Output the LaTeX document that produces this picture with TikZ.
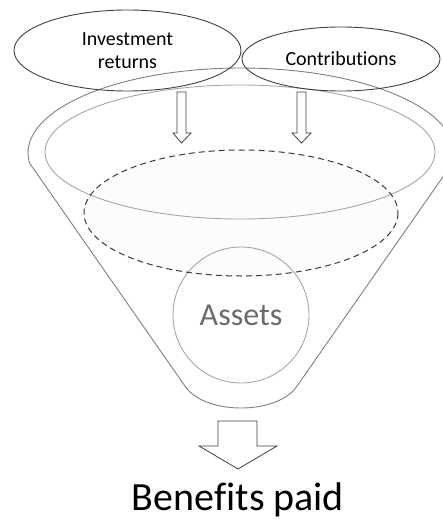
\documentclass[tikz,border=0pt]{standalone}
\usepackage{fontspec}
\setmainfont{Carlito}[Ligatures=NoCommon]
\usetikzlibrary{shapes.geometric}
\definecolor{rimgray}{HTML}{808080}
\definecolor{innergray}{HTML}{A6A6A6}
\definecolor{dashgray}{HTML}{3A3A3A}
\definecolor{fillgray}{HTML}{FCFCFC}
\definecolor{assetgray}{HTML}{6B6B6B}
\definecolor{topline}{HTML}{404040}
\tikzset{
  topell/.style={ellipse, draw=topline, line width=0.9pt, inner sep=0pt, outer sep=0pt, align=center, text=black, font=\fontsize{20}{23}\selectfont},
  blockarrow/.style={draw=topline, line width=0.8pt, fill=white, line join=miter},
  rimline/.style={draw=rimgray, line width=0.9pt},
}
\begin{document}
\begin{tikzpicture}[x=1pt,y=-1pt]
\useasboundingbox (0,0) rectangle (443,521);
% dashed ellipse fill (beneath all)
\fill[fillgray] (241,213) ellipse [x radius=157, y radius=63];
% funnel outline
\draw[rimline] (29.5,163) arc[start angle=173.25, end angle=366.75, x radius=213, y radius=85]
  -- (296.4,387) .. controls (276,415) and (206,415) .. (185.6,387) -- cycle;
% inner rim
\draw[draw=innergray, line width=0.9pt] (240,152) ellipse [x radius=195, y radius=67];
% assets circle
\node[circle, draw=innergray, line width=0.9pt, minimum size=136pt, inner sep=0pt, outer sep=0pt,
      text=assetgray, font=\fontsize{32}{36}\selectfont] (assets) at (241,315) {Assets};
% dashed outline
\draw[draw=dashgray, line width=1pt, dash pattern=on 6pt off 4pt] (241,213) ellipse [x radius=157, y radius=63];
% top ellipses
\node[topell, minimum width=227pt, minimum height=81pt] (ir) at (127.5,50.5) {Investment\\returns};
\node[topell, minimum width=198pt, minimum height=64pt] (contrib) at (341,59) {Contributions};
% inflow arrows
\draw[blockarrow] (177,92) -- (186,92) -- (186,133) -- (191,133) -- (181.5,143) -- (173,133) -- (177,133) -- cycle;
\draw[blockarrow] (297,92) -- (306,92) -- (306,133) -- (311,133) -- (301.5,143) -- (292,133) -- (297,133) -- cycle;
% outflow arrow
\draw[blockarrow] (218,421) -- (257,421) -- (257,446) -- (277,446) -- (238,469) -- (199,446) -- (218,446) -- cycle;
\node[font=\fontsize{40}{44}\selectfont, anchor=base, inner sep=0pt] (benefits) at (238,510) {Benefits paid};
\end{tikzpicture}
\end{document}
